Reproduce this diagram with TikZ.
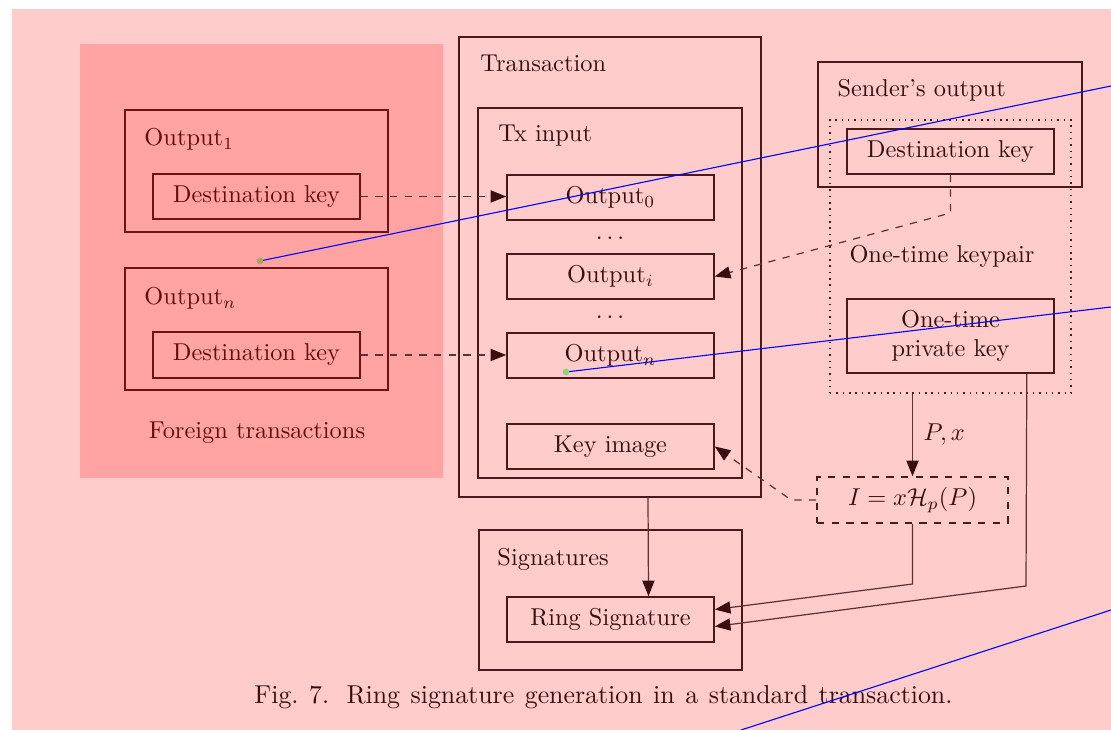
\documentclass[tikz,border=0pt]{standalone}
\usetikzlibrary{calc,arrows.meta}
\definecolor{lc}{RGB}{75,25,25}
\definecolor{tc}{RGB}{58,14,14}
\definecolor{lcf}{RGB}{110,18,18}
\definecolor{tcf}{RGB}{100,12,12}
\definecolor{bgpink}{RGB}{255,204,204}
\definecolor{fpink}{RGB}{255,163,163}
\definecolor{arrc}{RGB}{95,50,50}
\begin{document}
\begin{tikzpicture}[x=0.41pt,y=-0.41pt,
  sz/.style 2 args={minimum width=#1*0.41pt,minimum height=#2*0.41pt},
  box/.style={draw=lc,line width=0.65pt,inner sep=0pt,text=tc},
  fbox/.style={draw=lcf,line width=0.65pt,inner sep=0pt,text=tcf},
  ttl/.style={anchor=base west,inner sep=0pt,text=tc},
  fttl/.style={anchor=base west,inner sep=0pt,text=tcf},
  conn/.style={draw=arrc,line width=0.5pt,-{Triangle[length=6.4pt,width=5pt,color=tc]}},
  dconn/.style={conn,dashed}]
\useasboundingbox (0,0) rectangle (1111,730);
\fill[white] (0,0) rectangle (1111,730);
\fill[bgpink] (12,9) rectangle (1111,730);
% foreign transactions region
\fill[fpink] (80,44) rectangle (443,478);
\node[fbox,sz={263}{122}] (fo1) at (256.5,171) {};
\node[fttl] (fo1t) at (144,146) {Output$_1$};
\node[fbox,sz={207}{45}] (fd1) at (256.5,196.5) {Destination key};
\node[fbox,sz={263}{122}] (fon) at (256.5,329) {};
\node[fttl] (font) at (144,305) {Output$_n$};
\node[fbox,sz={207}{46}] (fdn) at (256.5,355) {Destination key};
\node[anchor=base,inner sep=0pt,text=tcf] (ftl) at (257,439) {Foreign transactions};
% transaction
\node[box,sz={302}{460}] (tr) at (610,267) {};
\node[ttl] (trt) at (480,72) {Transaction};
\node[box,sz={264}{370}] (txi) at (610,293) {};
\node[ttl] (txit) at (498,142) {Tx input};
\node[box,sz={207}{45}] (o0) at (610.5,197.5) {Output$_0$};
\node[anchor=base,inner sep=0pt,text=tc] (dt1) at (610,240) {$\ldots$};
\node[box,sz={207}{45}] (oi) at (610.5,276.5) {Output$_i$};
\node[anchor=base,inner sep=0pt,text=tc] (dt2) at (610,319) {$\ldots$};
\node[box,sz={207}{45}] (on) at (610.5,355.5) {Output$_n$};
\node[box,sz={207}{45}] (ki) at (610.5,446.5) {Key image};
% signatures
\node[box,sz={263}{140}] (sig) at (610.5,600) {};
\node[ttl] (sigt) at (497,565) {Signatures};
\node[box,sz={207}{45}] (rs) at (610.5,619.5) {Ring Signature};
% sender
\node[box,sz={264}{125}] (so) at (950,124.5) {};
\node[ttl] (sot) at (837,97) {Sender's output};
\node[draw=lc,dotted,line width=0.6pt,inner sep=0pt,sz={241}{273}] (okp) at (950.5,256.5) {};
\node[box,sz={207}{45}] (sk) at (950.5,151.5) {Destination key};
\node[ttl] (okpt) at (849,263) {One-time keypair};
\node[box,sz={207}{74},align=center] (otk) at (950.5,336) {One-time\\private key};
\node[draw=lc,dashed,line width=0.65pt,inner sep=0pt,text=tc,sz={191}{46}] (img) at (912.5,500) {$I = x\mathcal{H}_p(P)$};
% connectors
\draw[dconn] (fd1.east) -- (fd1.east -| o0.west);
\draw[dconn] (fdn.east) -- (fdn.east -| on.west);
\coordinate (b1) at (950.5,213);
\draw[dconn] (sk.south) -- (b1) -- (oi.east);
\draw[conn] (img.north |- okp.south) -- node[right=1pt,text=tc,pos=0.5] (pxl) {$P, x$} (img.north);
\draw[dconn] (img.west) -- ++(-25,0) -- (ki.east);
\coordinate (b2) at (912.5,584);
\draw[conn] (img.south) -- (b2) -- ($(rs.east)+(0,-10)$);
\coordinate (b3) at (1026,586);
\draw[conn] ($(otk.south east)+(-28,0)$) -- (b3) -- ($(rs.east)+(0,7)$);
\draw[conn] ($(tr.south)+(38,0)$) -- ($(rs.north)+(38,0)$);
% caption
\node[anchor=base west,inner sep=0pt,text=tc,font=\fontsize{10.6}{13}\selectfont] (cap) at (254,703) {\makebox[286.2pt][s]{Fig.~7. Ring signature generation in a standard transaction.}};
% blue lines and dots
\draw[blue,line width=0.45pt] (260,261) -- (1111,86);
\draw[blue,line width=0.45pt] (566,372) -- (1111,307);
\draw[blue,line width=0.45pt] (741,730) -- (1111,610);
\fill[fill={rgb,255:red,168;green,168;blue,88}] (260,261) circle[radius=1.4pt];
\fill[fill={rgb,255:red,140;green,212;blue,124}] (566,372) circle[radius=1.4pt];
\end{tikzpicture}
\end{document}
